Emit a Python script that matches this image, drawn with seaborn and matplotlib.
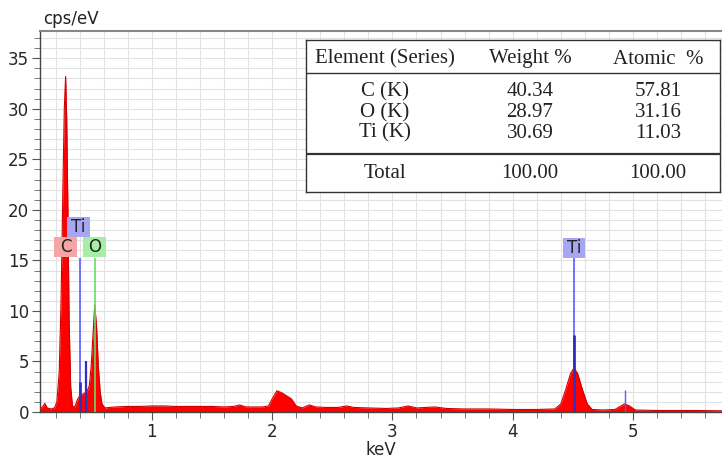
import seaborn as sns
import matplotlib.pyplot as plt
import pandas as pd
from matplotlib.patches import Rectangle

# EDS spectrum (keV, cps/eV)
energy = [0.07, 0.09, 0.11, 0.13, 0.16, 0.19, 0.21, 0.23, 0.245, 0.26, 0.272, 0.283,
          0.292, 0.302, 0.312, 0.325, 0.34, 0.36, 0.38, 0.40, 0.43, 0.46, 0.48, 0.495,
          0.51, 0.525, 0.54, 0.555, 0.57, 0.585, 0.61, 0.65, 0.70, 0.80, 0.90, 1.00,
          1.10, 1.20, 1.30, 1.40, 1.50, 1.60, 1.68, 1.73, 1.78, 1.85, 1.92, 1.97,
          2.00, 2.04, 2.08, 2.12, 2.16, 2.20, 2.25, 2.31, 2.36, 2.45, 2.55, 2.62,
          2.68, 2.80, 2.95, 3.05, 3.13, 3.20, 3.35, 3.45, 3.60, 3.80, 4.00, 4.20,
          4.35, 4.40, 4.44, 4.48, 4.51, 4.54, 4.58, 4.62, 4.66, 4.75, 4.85, 4.90,
          4.93, 4.97, 5.02, 5.20, 5.50, 5.74]
cps = [0.3, 0.5, 0.85, 0.4, 0.3, 0.4, 1.0, 4.0, 11.0, 22.0, 30.0, 33.2,
       29.0, 20.0, 9.0, 2.5, 0.6, 0.5, 1.2, 1.6, 1.8, 2.0, 2.6, 4.5,
       7.5, 10.6, 8.5, 4.5, 2.0, 0.8, 0.4, 0.45, 0.5, 0.55, 0.55, 0.6,
       0.6, 0.55, 0.55, 0.55, 0.55, 0.5, 0.55, 0.7, 0.5, 0.5, 0.5, 0.6,
       1.3, 2.1, 1.9, 1.6, 1.3, 0.6, 0.4, 0.7, 0.5, 0.45, 0.45, 0.6,
       0.45, 0.4, 0.35, 0.4, 0.6, 0.4, 0.5, 0.35, 0.3, 0.3, 0.25, 0.25,
       0.3, 0.8, 2.2, 3.8, 4.35, 3.8, 2.2, 0.8, 0.25, 0.2, 0.25, 0.6,
       0.8, 0.6, 0.2, 0.15, 0.15, 0.12]

# element marker lines: position, top, color, width
line_pos = [0.40, 0.40, 0.455, 0.525, 4.51, 4.51, 4.93]
line_top = [15.2, 3.0, 5.0, 15.2, 15.2, 7.6, 2.2]
line_col = ["#5a5aff", "#3030c0", "#3030c0", "#66dd66", "#5a5aff", "#3030c0", "#5a5aff"]
line_w = [1.2, 2.0, 1.6, 1.2, 1.2, 2.0, 1.0]

# element labels
lab_text = ["C", "O", "Ti", "Ti"]
lab_x = [0.283, 0.524, 0.387, 4.51]
lab_y = [16.3, 16.3, 18.3, 16.2]
lab_col = ["#f4a6a6", "#a6eea6", "#a6a6f2", "#a6a6f2"]

# quantification table
tab_header = ["Element (Series)", "Weight %", "Atomic  %"]
tab_elem = ["C (K)", "O (K)", "Ti (K)"]
tab_weight = ["40.34", "28.97", "30.69"]
tab_atomic = ["57.81", "31.16", "11.03"]
tab_total = ["Total", "100.00", "100.00"]

sns.set_style("white")
plt.rcParams["font.family"] = ["DejaVu Sans"]

fig = plt.figure(figsize=(7.22, 4.59), dpi=100)
ax = fig.add_axes([40 / 722, 1 - 412 / 459, 682 / 722, 381 / 459])

df = pd.DataFrame({"keV": energy, "cps": cps})
ax.fill_between(df["keV"], 0, df["cps"], color="#ff0000", lw=0, zorder=2)
sns.lineplot(data=df, x="keV", y="cps", ax=ax, color="#d00000", lw=0.8, zorder=3)

for x, top, c, w in zip(line_pos, line_top, line_col, line_w):
    ax.vlines(x, 0, top, color=c, lw=w, zorder=4)

bw, bh = 0.19, 2.0
for t, x, y, c in zip(lab_text, lab_x, lab_y, lab_col):
    ax.add_patch(Rectangle((x - bw / 2, y - bh / 2), bw, bh, fc=c, ec="none", zorder=5))
    ax.text(x, y, t, ha="center", va="center", fontsize=12, color="#222222", zorder=6)

ax.set_xlim(0.07, 5.74)
ax.set_ylim(0, 37.7)
ax.set_xticks([1, 2, 3, 4, 5])
ax.set_xticks([i / 5 for i in range(1, 29)], minor=True)
ax.set_yticks([0, 5, 10, 15, 20, 25, 30, 35])
ax.set_yticks(list(range(0, 38)), minor=True)
ax.grid(which="both", color="#e2e2e2", lw=0.8, zorder=0)
ax.set_axisbelow(True)
ax.tick_params(which="major", direction="out", length=6, width=0.8, color="#555555",
               labelsize=12, left=True, bottom=True, pad=2)
ax.tick_params(which="minor", direction="out", length=4, width=0.7, color="#777777",
               left=True, bottom=True)
ax.set_xlabel("keV", fontsize=12, labelpad=0)
ax.set_ylabel("")
ax.spines["right"].set_visible(False)
for s in ["left", "bottom"]:
    ax.spines[s].set_color("#444444")
    ax.spines[s].set_linewidth(1.0)
ax.spines["top"].set_color("#888888")
ax.spines["top"].set_linewidth(1.5)
fig.text(43 / 722, 1 - 19 / 459, "cps/eV", fontsize=12, va="center", ha="left", color="#222222")

# table drawn on its own axes
tax = fig.add_axes([306 / 722, 1 - 192 / 459, 414 / 722, 152 / 459])
tax.set_xlim(0, 1)
tax.set_ylim(0, 1)
tax.set_xticks([])
tax.set_yticks([])
tax.set_facecolor("white")
for s in tax.spines.values():
    s.set_color("#333333")
    s.set_linewidth(1.0)
tax.axhline(0.785, color="#333333", lw=1.0)
tax.axhline(0.25, color="#333333", lw=1.6)
cols = [0.191, 0.541, 0.850]
serif = dict(family="Liberation Serif", fontsize=15, color="#222222", ha="center", va="center")
for x, t in zip(cols, tab_header):
    tax.text(x, 0.875, t, **serif)
for y, e, w, a in zip([0.658, 0.52, 0.388], tab_elem, tab_weight, tab_atomic):
    tax.text(cols[0], y, e, **serif)
    tax.text(cols[1], y, w, **serif)
    tax.text(cols[2], y, a, **serif)
for x, t in zip(cols, tab_total):
    tax.text(x, 0.125, t, **serif)

fig.savefig("out.png", dpi=100)
